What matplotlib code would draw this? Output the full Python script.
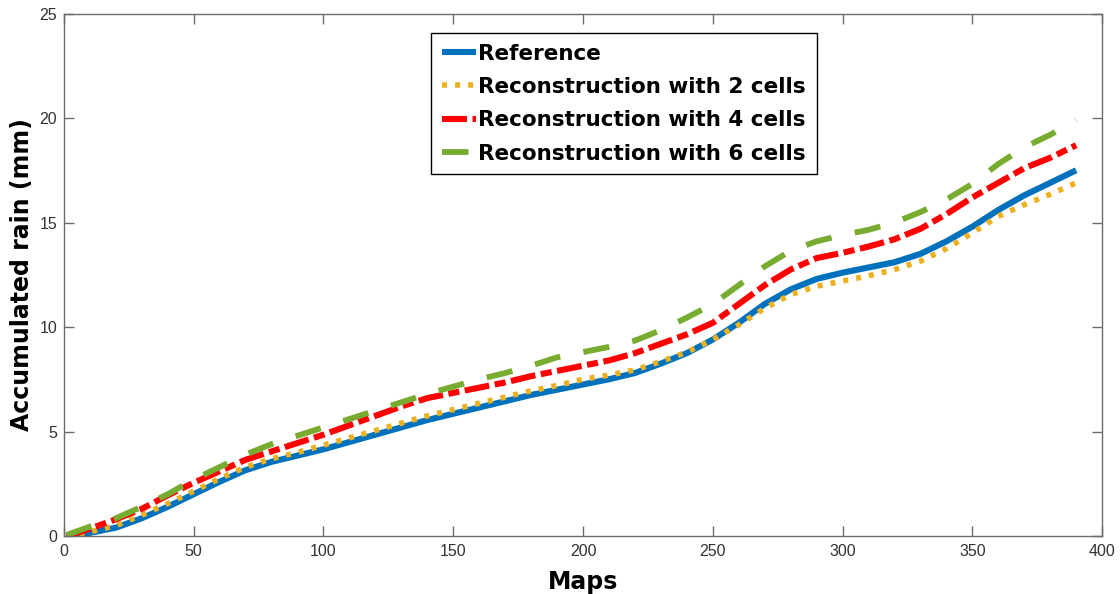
import matplotlib
matplotlib.use("Agg")
import matplotlib.pyplot as plt

# data
maps = [1, 10, 20, 30, 40, 50, 60, 70, 80, 90, 100, 110, 120, 130, 140, 150, 160, 170, 180, 190,
        200, 210, 220, 230, 240, 250, 260, 270, 280, 290, 300, 310, 320, 330, 340, 350, 360, 370, 380, 390]

reference = [0.0, 0.15, 0.4, 0.85, 1.4, 2.0, 2.6, 3.15, 3.55, 3.85, 4.15, 4.5, 4.85, 5.2, 5.55, 5.85, 6.15, 6.45, 6.75, 7.0,
             7.25, 7.5, 7.8, 8.25, 8.75, 9.4, 10.2, 11.1, 11.8, 12.3, 12.6, 12.85, 13.1, 13.5, 14.1, 14.8, 15.6, 16.3, 16.9, 17.5]

cells2 = [0.0, 0.2, 0.5, 1.0, 1.55, 2.15, 2.75, 3.3, 3.7, 4.0, 4.35, 4.7, 5.05, 5.4, 5.75, 6.05, 6.35, 6.65, 6.95, 7.2,
          7.5, 7.7, 7.95, 8.35, 8.8, 9.4, 10.1, 10.9, 11.55, 11.95, 12.2, 12.45, 12.75, 13.15, 13.75, 14.5, 15.3, 15.85, 16.35, 16.9]

cells4 = [0.0, 0.35, 0.8, 1.3, 1.95, 2.55, 3.1, 3.65, 4.05, 4.45, 4.85, 5.3, 5.75, 6.2, 6.6, 6.85, 7.1, 7.35, 7.65, 7.9,
          8.15, 8.4, 8.75, 9.2, 9.65, 10.2, 11.1, 12.0, 12.75, 13.3, 13.55, 13.85, 14.2, 14.7, 15.4, 16.2, 16.9, 17.6, 18.1, 18.7]

cells6 = [0.05, 0.45, 0.85, 1.4, 2.0, 2.7, 3.3, 3.9, 4.4, 4.8, 5.2, 5.6, 6.0, 6.4, 6.8, 7.15, 7.5, 7.8, 8.15, 8.55,
          8.8, 9.05, 9.35, 9.85, 10.45, 11.1, 12.0, 12.9, 13.65, 14.1, 14.4, 14.65, 15.0, 15.5, 16.1, 16.85, 17.8, 18.6, 19.2, 19.9]

labels = ["Reference", "Reconstruction with 2 cells", "Reconstruction with 4 cells", "Reconstruction with 6 cells"]

plt.rcParams['lines.scale_dashes'] = False
plt.rcParams['font.family'] = ['Liberation Sans', 'DejaVu Sans']

fig = plt.figure(figsize=(11.2, 5.94), dpi=100)
ax = fig.add_axes([0.0571, 0.0976, 0.9269, 0.8796])

ax.plot(maps, reference, color='#0072BD', lw=4.4, solid_capstyle='butt', label=labels[0])
ax.plot(maps, cells2, color='#EDB120', lw=4.0, dashes=[3.6, 5.8], dash_capstyle='butt', label=labels[1])
ax.plot(maps, cells4, color='#FF0000', lw=4.4, dashes=[18, 4, 8, 4], dash_capstyle='butt', label=labels[2])
ax.plot(maps, cells6, color='#77AC30', lw=4.2, dashes=[19, 17], dash_capstyle='butt', label=labels[3])

ax.set_xlim(0, 400)
ax.set_ylim(0, 25)
ax.set_xticks(range(0, 401, 50))
ax.set_yticks(range(0, 26, 5))

for s in ax.spines.values():
    s.set_color('#6b6b6b')
    s.set_linewidth(1.0)
ax.tick_params(direction='in', length=7, width=1.0, color='#6b6b6b', labelcolor='#333333',
               labelsize=11.5, top=True, right=True)
ax.tick_params(axis='x', pad=6)
ax.tick_params(axis='y', pad=5)

ax.set_xlabel("Maps", family='DejaVu Sans', fontweight='bold', fontsize=17, labelpad=8)
ax.set_ylabel("Accumulated rain (mm)", family='DejaVu Sans', fontweight='bold', fontsize=17, labelpad=4)

leg = ax.legend(loc='upper left', bbox_to_anchor=(0.3536, 0.963), fancybox=False, framealpha=1,
                edgecolor='black', handlelength=1.6, handletextpad=0.1, borderpad=0.5,
                labelspacing=0.62, borderaxespad=0,
                prop={'family': 'DejaVu Sans', 'weight': 'bold', 'size': 15.5})
leg.get_frame().set_linewidth(1.0)

fig.savefig("out.png", dpi=100)
